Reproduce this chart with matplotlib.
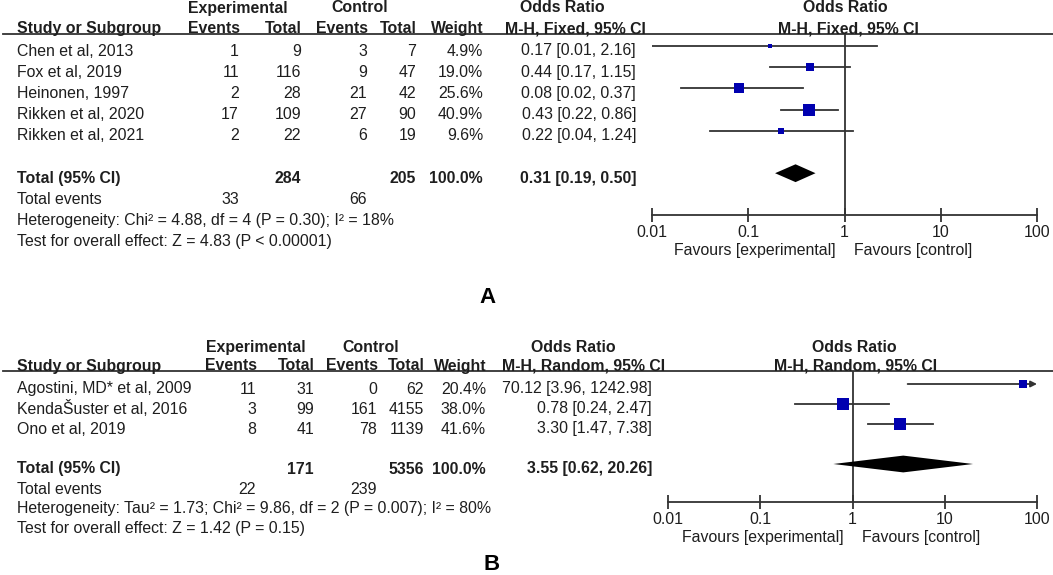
import numpy as np
import matplotlib
matplotlib.use("Agg")
import matplotlib.pyplot as plt
from matplotlib.ticker import NullLocator

plt.rcParams['font.family'] = ['Liberation Sans', 'DejaVu Sans']

# ---- panel A data (fixed effect) ----
studies_a = ["Chen et al, 2013", "Fox et al, 2019", "Heinonen, 1997", "Rikken et al, 2020", "Rikken et al, 2021"]
exp_events_a = [1, 11, 2, 17, 2]
exp_total_a = [9, 116, 28, 109, 22]
ctl_events_a = [3, 9, 21, 27, 6]
ctl_total_a = [7, 47, 42, 90, 19]
weight_a = [4.9, 19.0, 25.6, 40.9, 9.6]
or_a = [0.17, 0.44, 0.08, 0.43, 0.22]
lo_a = [0.01, 0.17, 0.02, 0.22, 0.04]
hi_a = [2.16, 1.15, 0.37, 0.86, 1.24]
pooled_a = [0.31, 0.19, 0.50]
totals_a = [284, 205]
tot_events_a = [33, 66]
het_a = "Heterogeneity: Chi² = 4.88, df = 4 (P = 0.30); I² = 18%"
test_a = "Test for overall effect: Z = 4.83 (P < 0.00001)"

# ---- panel B data (random effects) ----
studies_b = ["Agostini, MD* et al, 2009", "KendaŠuster et al, 2016", "Ono et al, 2019"]
exp_events_b = [11, 3, 8]
exp_total_b = [31, 99, 41]
ctl_events_b = [0, 161, 78]
ctl_total_b = [62, 4155, 1139]
weight_b = [20.4, 38.0, 41.6]
or_b = [70.12, 0.78, 3.30]
lo_b = [3.96, 0.24, 1.47]
hi_b = [1242.98, 2.47, 7.38]
pooled_b = [3.55, 0.62, 20.26]
totals_b = [171, 5356]
tot_events_b = [22, 239]
het_b = "Heterogeneity: Tau² = 1.73; Chi² = 9.86, df = 2 (P = 0.007); I² = 80%"
test_b = "Test for overall effect: Z = 1.42 (P = 0.15)"

ticks = [0.01, 0.1, 1, 10, 100]
tick_labels = ["0.01", "0.1", "1", "10", "100"]

W, H = 1053, 575
FS = 11.4
TXT = '#1e1e1e'
LINE = '#333333'
BLUE = '#0000b0'

fig = plt.figure(figsize=(W / 100, H / 100), dpi=100)
canvas = fig.add_axes([0, 0, 1, 1])
canvas.set_xlim(0, W)
canvas.set_ylim(H, 0)
canvas.axis('off')


def t(x, y, s, ha='right', bold=False, size=FS):
    canvas.text(x, y, s, ha=ha, va='baseline', fontsize=size, color=TXT,
                fontweight='bold' if bold else 'normal')


def panel(studies, ee, et, ce, ct, wt, ors, los, his, pooled, totals, tot_ev, het, test,
          method, cols, hdr, row0, step, line_y, axis_y, plot_x, fav_gap, label, label_xy):
    c_ee, c_et, c_ce, c_ct, c_w, c_or = cols
    n = len(studies)
    base = lambda i: row0 + step * i + 9.5

    # header
    h1, h2, cen_exp, cen_ctl, cen_or, cen_mh = hdr
    t(cen_exp, h1, "Experimental", ha='center', bold=True)
    t(cen_ctl, h1, "Control", ha='center', bold=True)
    t(cen_or, h1, "Odds Ratio", ha='center', bold=True)
    t(17, h2, "Study or Subgroup", ha='left', bold=True)
    t(c_ee + 1, h2, "Events", bold=True)
    t(c_et + 1, h2, "Total", bold=True)
    t(c_ce + 1, h2, "Events", bold=True)
    t(c_ct + 1, h2, "Total", bold=True)
    t(c_w + 1, h2, "Weight", bold=True)
    t(cen_mh, h2, "M-H, " + method + ", 95% CI", ha='center', bold=True)
    canvas.plot([3, W], [line_y, line_y], color=LINE, lw=1.3)

    # study rows
    for i in range(n):
        y = base(i)
        t(17, y, studies[i], ha='left')
        t(c_ee, y, str(ee[i]))
        t(c_et, y, str(et[i]))
        t(c_ce, y, str(ce[i]))
        t(c_ct, y, str(ct[i]))
        t(c_w, y, "%.1f%%" % wt[i])
        t(c_or, y, "%.2f [%.2f, %.2f]" % (ors[i], los[i], his[i]))

    y = base(n + 1)
    t(17, y, "Total (95% CI)", ha='left', bold=True)
    t(c_et, y, str(totals[0]), bold=True)
    t(c_ct, y, str(totals[1]), bold=True)
    t(c_w, y, "100.0%", bold=True)
    t(c_or, y, "%.2f [%.2f, %.2f]" % tuple(pooled), bold=True)
    y = base(n + 2)
    t(17, y, "Total events", ha='left')
    t(c_ee, y, str(tot_ev[0]))
    t(c_ce, y, str(tot_ev[1]))
    t(17, base(n + 3), het, ha='left')
    t(17, base(n + 4), test, ha='left')

    # forest plot
    x0, x1 = plot_x
    ax = fig.add_axes([x0 / W, 1 - axis_y / H, (x1 - x0) / W, (axis_y - line_y) / H])
    ax.patch.set_alpha(0)
    ax.set_xscale('log')
    ax.set_xlim(ticks[0], ticks[-1])
    ax.set_ylim((axis_y - row0) / step, (line_y - row0) / step)
    ax.axvline(1, color=LINE, lw=1.3, zorder=1)
    for i in range(n):
        if his[i] > ticks[-1]:
            ax.annotate('', xy=(ticks[-1], i), xytext=(los[i], i),
                        arrowprops=dict(arrowstyle='-|>', color=LINE, lw=1.3,
                                        mutation_scale=9, shrinkA=0, shrinkB=0))
        else:
            ax.plot([los[i], his[i]], [i, i], color=LINE, lw=1.3, zorder=2)
        side = 1.85 * np.sqrt(wt[i]) * 0.72
        ax.scatter([ors[i]], [i], marker='s', s=side ** 2, color=BLUE, lw=0, zorder=3)
    est, plo, phi = pooled
    yd = n + 1
    ax.fill([plo, est, phi, est], [yd, yd - 0.42, yd, yd + 0.42], color='black', lw=0)

    for s in ['top', 'left', 'right']:
        ax.spines[s].set_visible(False)
    ax.spines['bottom'].set_color(LINE)
    ax.spines['bottom'].set_linewidth(1.3)
    ax.set_yticks([])
    ax.set_xticks(ticks)
    ax.set_xticklabels(tick_labels)
    ax.xaxis.set_minor_locator(NullLocator())
    ax.tick_params(axis='x', direction='inout', length=10, width=1.3, color=LINE,
                   labelsize=FS, labelcolor=TXT, pad=2.5)

    xm = x0 + (x1 - x0) * 0.5
    fy = axis_y + 40
    t(xm - fav_gap, fy, "Favours [experimental]", size=FS)
    t(xm + fav_gap, fy, "Favours [control]", ha='left', size=FS)

    canvas.text(label_xy[0], label_xy[1], label, ha='center', va='baseline',
                fontsize=16, fontweight='bold', color='black')
    return ax


panel(studies_a, exp_events_a, exp_total_a, ctl_events_a, ctl_total_a, weight_a,
      or_a, lo_a, hi_a, pooled_a, totals_a, tot_events_a, het_a, test_a,
      "Fixed", (239, 301, 367, 416, 483, 636), (12.5, 33, 238, 360, 562, 575),
      46, 21.2, 34, 215, (652, 1037), 9, "A", (488, 303))

# plot header text for A
t(845, 12.5, "Odds Ratio", ha='center', bold=True)
t(848, 33, "M-H, Fixed, 95% CI", ha='center', bold=True)

panel(studies_b, exp_events_b, exp_total_b, ctl_events_b, ctl_total_b, weight_b,
      or_b, lo_b, hi_b, pooled_b, totals_b, tot_events_b, het_b, test_b,
      "Random", (256, 314, 377, 424, 486, 652), (352, 370.5, 256, 371, 573, 584),
      384, 20, 371, 502, (668, 1037), 9, "B", (492, 570))

t(854, 352, "Odds Ratio", ha='center', bold=True)
t(856, 370.5, "M-H, Random, 95% CI", ha='center', bold=True)

fig.savefig("out.png", dpi=100)
